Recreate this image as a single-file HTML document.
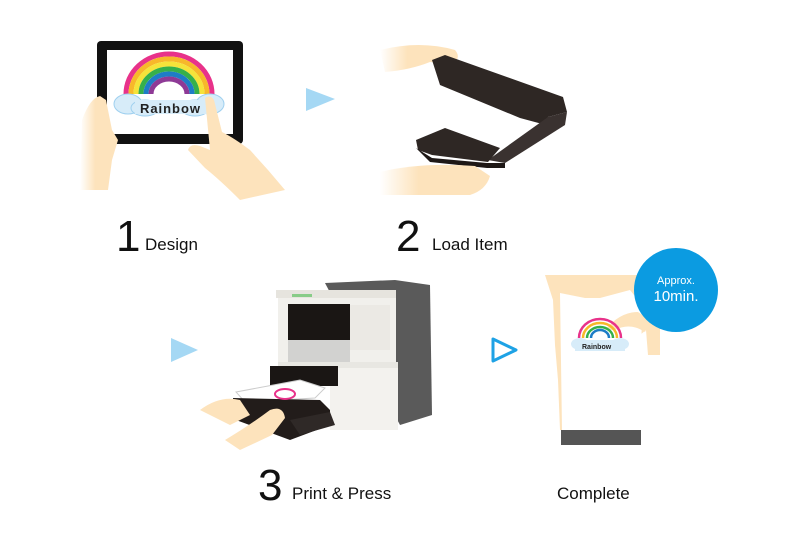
<!DOCTYPE html>
<html><head><style>
html,body{margin:0;padding:0;background:#fff;width:800px;height:533px;overflow:hidden}
svg{display:block}
text{font-family:"Liberation Sans",sans-serif}
</style></head><body>
<svg width="800" height="533" viewBox="0 0 800 533">
<defs>
<linearGradient id="fade" x1="0" x2="1"><stop offset="0" stop-color="#fde3bc" stop-opacity="0"/><stop offset="0.4" stop-color="#fde3bc"/></linearGradient>
<linearGradient id="fade2" x1="0" x2="1"><stop offset="0" stop-color="#fde3bc" stop-opacity="0"/><stop offset="0.35" stop-color="#fde3bc"/></linearGradient>
</defs>
<!-- Tablet -->
<rect x="97" y="41" width="146" height="103" rx="4" fill="#111"/>
<rect x="107" y="50" width="126" height="84" fill="#fff"/>
<g fill="none" stroke-width="5">
<path d="M126 94 A43 40 0 0 1 212 94" stroke="#e8328a"/>
<path d="M131 94 A38 35 0 0 1 207 94" stroke="#f7b82a"/>
<path d="M136 94 A33 30 0 0 1 202 94" stroke="#f5e33a"/>
<path d="M141 94 A28 25 0 0 1 197 94" stroke="#36b04a"/>
<path d="M146 94 A23 20 0 0 1 192 94" stroke="#1e7dc6"/>
<path d="M151 94 A18 15 0 0 1 187 94" stroke="#8e3a96"/>
</g>
<g fill="#d7ecf9" stroke="#9fd0ef" stroke-width="1">
<ellipse cx="128" cy="104" rx="14" ry="10"/><ellipse cx="210" cy="104" rx="14" ry="10"/>
<ellipse cx="145" cy="108" rx="14" ry="8"/><ellipse cx="195" cy="108" rx="14" ry="8"/>
</g>
<rect x="135" y="100" width="72" height="14" fill="#d7ecf9"/>
<text x="140" y="113" font-size="13" font-weight="bold" fill="#222" textLength="60">Rainbow</text>
<!-- hands -->
<path d="M80 190 L82 120 Q90 98 100 96 L106 100 L112 130 L118 140 L112 160 L108 190 Z" fill="url(#fade)"/>
<path d="M205 98 Q210 94 214 100 L222 132 Q234 138 250 150 L268 170 L285 190 L240 200 Q220 180 205 168 L188 150 Q190 143 200 146 L210 150 Z" fill="#fde3bc"/>
<!-- arrow1 -->
<path d="M306 88 L335 99 L306 111 Z" fill="#a5d8f4"/>
<!-- heat press -->
<path d="M380 50 Q420 40 455 50 Q462 58 452 64 L430 62 Q410 70 385 72 Z" fill="url(#fade2)"/>
<path d="M432 60 L445 55 L563 97 L567 112 L548 117 L546 125 L520 118 L440 85 Z" fill="#2e2724"/>
<path d="M548 117 L567 112 L565 125 L505 163 L488 160 Z" fill="#3a3230"/>
<path d="M416 140 L445 128 L500 148 L488 162 L432 155 L418 150 Z" fill="#2e2724"/>
<path d="M416 148 L432 158 L487 163 L505 163 L505 168 L487 168 L430 162 Z" fill="#1e1816"/>
<path d="M380 172 Q420 162 475 166 L490 176 Q486 190 470 195 L380 195 Z" fill="url(#fade2)"/>
<!-- labels -->
<text x="116" y="251" font-size="44" fill="#111">1</text>
<text x="145" y="250" font-size="17" fill="#111">Design</text>
<text x="396" y="251" font-size="44" fill="#111">2</text>
<text x="432" y="250" font-size="17" fill="#111">Load Item</text>
<!-- arrows row2 -->
<path d="M171 338 L198 350 L171 362 Z" fill="#a5d8f4"/>
<path d="M493 339 L516 350 L493 361 Z" fill="none" stroke="#1ea2e5" stroke-width="3" stroke-linejoin="round"/>
<!-- printer -->
<path d="M325 283 L395 280 L430 285 L432 415 L400 425 Z" fill="#5a5a5a"/>
<rect x="278" y="290" width="118" height="72" fill="#f1f0ec"/>
<rect x="276" y="290" width="120" height="8" fill="#e6e4de"/>
<rect x="288" y="304" width="62" height="36" fill="#1a1614"/>
<rect x="350" y="305" width="40" height="45" fill="#ebe9e4"/>
<rect x="288" y="340" width="62" height="22" fill="#d2d2d0"/>
<rect x="292" y="294" width="20" height="3" fill="#8c8"/>
<rect x="278" y="362" width="120" height="10" fill="#e8e7e2"/>
<rect x="330" y="368" width="68" height="62" fill="#f3f2ee"/>
<rect x="270" y="366" width="68" height="20" fill="#1a1614"/>
<path d="M236 392 L300 380 L325 388 L315 398 L245 402 Z" fill="#fff" stroke="#ccc"/>
<path d="M233 398 L320 400 L330 410 L330 425 L290 440 L236 420 Z" fill="#221c1a"/>
<path d="M290 420 L330 412 L335 425 L300 435 Z" fill="#2f2927"/>
<ellipse cx="285" cy="394" rx="10" ry="5" fill="none" stroke="#e8328a" stroke-width="2"/>
<path d="M200 410 Q220 395 240 400 L250 415 L230 425 Z" fill="#fde3bc"/>
<path d="M225 440 Q250 425 270 410 Q283 405 285 418 L272 435 L240 450 Z" fill="#fde3bc"/>
<text x="258" y="500" font-size="44" fill="#111">3</text>
<text x="292" y="499" font-size="17" fill="#111">Print &amp; Press</text>
<!-- person -->
<path d="M545 275 L640 275 L640 292 L660 312 L660 355 L648 355 L646 330 L640 335 L640 430 L560 430 L558 380 L555 345 L553 300 Z" fill="#fde3bc"/>
<path d="M560 293 L585 298 L600 298 L630 290 L642 305 L640 430 L562 430 Z" fill="#fff"/>
<path d="M605 330 Q620 312 638 312 L650 320 L645 332 Q630 322 615 330 Z" fill="#fde3bc"/>
<rect x="561" y="430" width="80" height="15" fill="#555"/>
<g fill="none" stroke-width="2.5">
<path d="M579 338 A21 19 0 0 1 621 338" stroke="#e8328a"/>
<path d="M583 338 A17 15 0 0 1 617 338" stroke="#f7b82a"/>
<path d="M587 338 A13 11 0 0 1 613 338" stroke="#36b04a"/>
<path d="M591 338 A9 8 0 0 1 609 338" stroke="#1e7dc6"/>
</g>
<g fill="#d7ecf9"><ellipse cx="580" cy="344" rx="9" ry="6"/><ellipse cx="620" cy="344" rx="9" ry="6"/><rect x="575" y="340" width="50" height="11"/></g>
<text x="582" y="349" font-size="7" font-weight="bold" fill="#222">Rainbow</text>
<circle cx="676" cy="290" r="42" fill="#0b9be1"/>
<text x="676" y="284" font-size="11" fill="#fff" text-anchor="middle">Approx.</text>
<text x="676" y="301" font-size="15" fill="#fff" text-anchor="middle">10min.</text>
<text x="557" y="499" font-size="17" fill="#111">Complete</text>
</svg>
</body></html>
